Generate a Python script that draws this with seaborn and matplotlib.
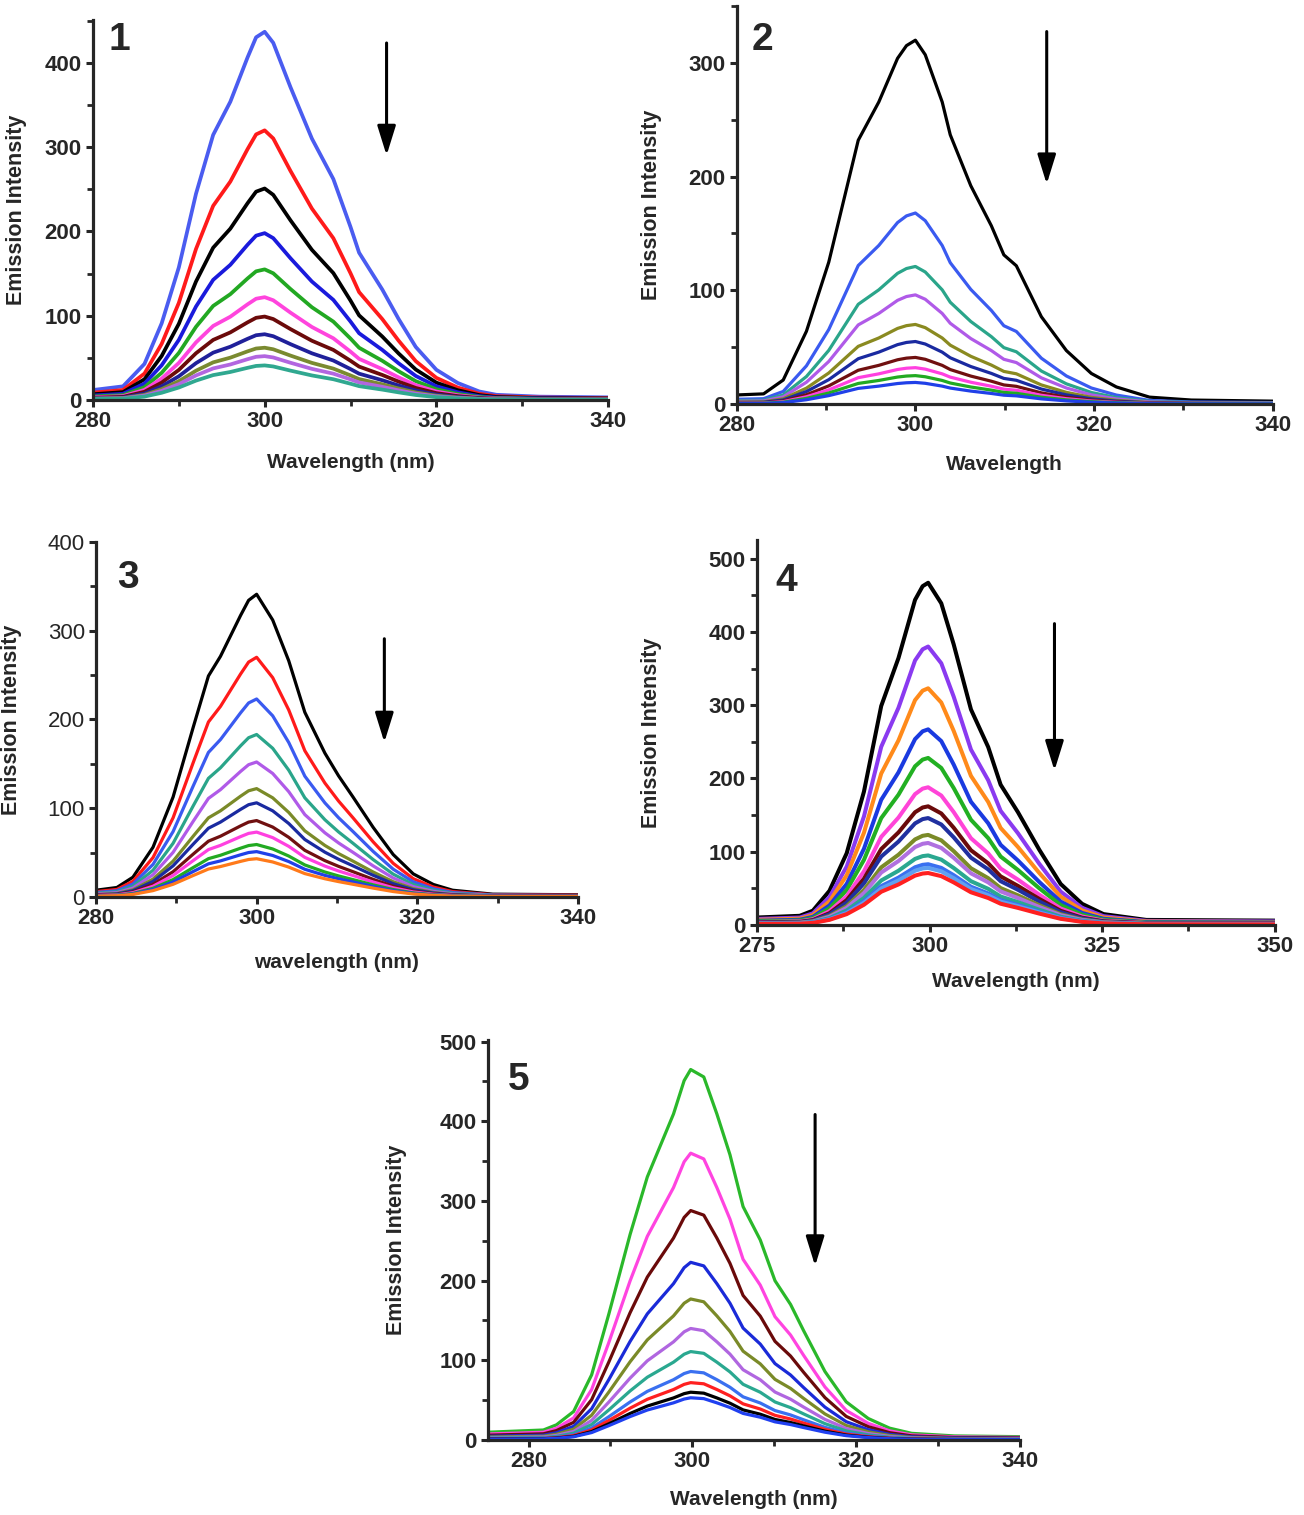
import numpy as np
import pandas as pd
import matplotlib
matplotlib.use("Agg")
import matplotlib.pyplot as plt
from matplotlib.ticker import MultipleLocator
import seaborn as sns

sns.set_style("ticks")
plt.rcParams['font.family'] = ['Liberation Sans', 'DejaVu Sans']

# ---- data: one normalised band shape per panel + peak heights ----
wl_1 = [280, 283.5, 286, 288, 290, 292, 294, 296, 298, 299, 300, 301, 303, 305.5, 308, 310, 311,
        313.7, 315.6, 317.6, 320, 322.5, 325, 327, 332, 340]
shape_1 = [.027, .037, .098, .208, .36, .56, .72, .81, .93, .985, 1.0, .97, .85, .71, .60, .47, .40,
           .30, .22, .144, .082, .046, .023, .014, .009, .007]
peaks_1 = [437, 320, 251, 198, 155, 122, 99, 78, 62, 52, 41]
colors_1 = ['#4a5cf0', '#ff1a1a', '#000000', '#1a1adc', '#22a822', '#ff44dd', '#6b0a0a',
            '#20209a', '#7a8a30', '#b266e0', '#30a890']

wl_2 = [280, 283, 285.2, 287.8, 290.3, 293.6, 295.9, 298, 299, 300, 301.1, 303, 303.9, 306.2, 308.5,
        309.9, 311.3, 314.1, 316.9, 319.7, 322.5, 326.2, 330.9, 340]
shape_2 = [.025, .028, .066, .20, .39, .725, .83, .95, .985, 1.0, .96, .83, .74, .60, .49,
           .41, .38, .24, .147, .084, .047, .019, .011, .008]
peaks_2 = [320, 168, 121, 96, 70, 55, 41, 32, 25, 19]
colors_2 = ['#000000', '#3a5af0', '#2aa58a', '#b05ae8', '#8a8a20', '#1a2aa0', '#701010',
            '#ff40e0', '#22aa22', '#2040e8']

wl_3 = [280, 282.6, 284.6, 287.1, 289.6, 292.1, 294, 295.5, 298, 299, 300, 302, 304, 306, 308.5,
        310.2, 312, 314.5, 317, 319.5, 322, 324.4, 329.4, 340]
shape_3 = [.022, .031, .065, .164, .33, .56, .73, .795, .93, .98, 1.0, .915, .78, .61, .475,
           .40, .33, .23, .14, .076, .041, .022, .009, .007]
peaks_3 = [341, 270, 223, 183, 152, 122, 106, 86, 73, 59, 51, 43]
colors_3 = ['#000000', '#ff1a1a', '#3a5af0', '#2aa58a', '#b05ae8', '#7a8a28', '#1a2aa0',
            '#701010', '#ff40e0', '#22aa22', '#2040e8', '#ff7a1a']

wl_4 = [275, 281.2, 283.1, 285.5, 288, 290.5, 293, 295.5, 297.9, 299, 299.8, 301.7, 303.5, 306,
        308.5, 310.3, 312.8, 315.9, 319, 322.1, 325.2, 331.4, 350]
shape_4 = [.022, .027, .042, .10, .21, .39, .64, .78, .95, .99, 1.0, .94, .82, .63,
           .52, .41, .33, .22, .12, .062, .032, .015, .013]
peaks_4 = [467, 380, 323, 267, 228, 188, 162, 146, 123, 112, 95, 83, 78, 71]
colors_4 = ['#000000', '#8a3af0', '#ff8a1a', '#1a3ae0', '#22b022', '#ff44d8', '#6a0a0a',
            '#2030a0', '#7a8a28', '#b070e0', '#2aa890', '#3a70f0', '#60a0f0', '#ff2020']

wl_5 = [275, 281.8, 283.4, 285.5, 287.7, 289.8, 292.4, 294.5, 297.7, 299, 299.8, 301.4, 303, 304.6,
        306.2, 308.3, 310.1, 312, 313.6, 316.2, 318.8, 321.5, 324.1, 326.8, 332, 340]
shape_5 = [.021, .027, .041, .077, .176, .34, .555, .71, .88, .97, 1.0, .98, .88, .77,
           .63, .54, .43, .366, .295, .185, .103, .058, .032, .018, .011, .009]
peaks_5 = [465, 360, 288, 223, 177, 140, 111, 86, 72, 60, 53]
colors_5 = ['#2ab82a', '#ff44e0', '#6a0a0a', '#1a2ad8', '#7a8a28', '#b066e0', '#2aa890',
            '#3a70f0', '#ff2020', '#000000', '#2040f0']

panels = [
    # label, wl, shape, peaks, colors, rect, xlim, xmajor, xminor, ytop, xlabel, lw, arrow(x, y0, y1), ylab_off, xlab_off, num_pos
    ('1', wl_1, shape_1, peaks_1, colors_1, [0.0713, 0.736, 0.395, 0.2508], (280, 340), 20, 10,
     451, 'Wavelength (nm)', 2.7, (314.2, 427, 287), -0.128, -0.139, (0.03, 0.995)),
    ('2', wl_2, shape_2, peaks_2, colors_2, [0.565, 0.7333, 0.411, 0.2627], (280, 340), 20, 10,
     350, 'Wavelength', 2.3, (314.7, 330, 191), -0.14, -0.128, (0.028, 0.96)),
    ('3', wl_3, shape_3, peaks_3, colors_3, [0.0736, 0.408, 0.3696, 0.2343], (280, 340), 20, 10,
     400, 'wavelength (nm)', 2.3, (315.9, 294, 171), -0.154, -0.158, (0.044, 0.95)),
    ('4', wl_4, shape_4, peaks_4, colors_4, [0.5805, 0.3894, 0.397, 0.254], (275, 350), 25, 12.5,
     525, 'Wavelength (nm)', 2.9, (318.1, 415, 207), -0.183, -0.122, (0.035, 0.94)),
    ('5', wl_5, shape_5, peaks_5, colors_5, [0.374, 0.0495, 0.408, 0.264], (275, 340), 20, 10,
     502, 'Wavelength (nm)', 2.3, (315.0, 412, 215), -0.152, -0.125, (0.038, 0.945)),
]

fig = plt.figure(figsize=(13.04, 15.15), dpi=100)

for (num, wl, shape, peaks, colors, rect, xlim, xmaj, xmin, ytop, xlab, lw, arrow,
     ylab_off, xlab_off, num_pos) in panels:
    ax = fig.add_axes(rect)
    rows = []
    for i, pk in enumerate(peaks):
        for w, s in zip(wl, shape):
            rows.append({'wl': w, 'I': s * pk, 'curve': i})
    df = pd.DataFrame(rows)
    sns.lineplot(data=df, x='wl', y='I', hue='curve', palette=colors, estimator=None,
                 sort=False, lw=lw, legend=False, ax=ax,
                 solid_joinstyle='round', solid_capstyle='round')
    ax.set_xlim(*xlim)
    ax.set_ylim(0, ytop)
    ax.xaxis.set_major_locator(MultipleLocator(xmaj))
    ax.xaxis.set_minor_locator(MultipleLocator(xmin))
    ax.yaxis.set_major_locator(MultipleLocator(100))
    ax.yaxis.set_minor_locator(MultipleLocator(50))
    sns.despine(ax=ax)
    for sp in ['left', 'bottom']:
        ax.spines[sp].set_linewidth(2.3)
    ax.tick_params(which='major', length=5, width=2.2, labelsize=16, pad=3)
    ax.tick_params(which='minor', length=4, width=2.0)
    for t in ax.get_xticklabels():
        t.set_fontweight('bold')
    for t in ax.get_yticklabels():
        t.set_fontweight('normal' if num == '3' else 'bold')
    ax.set_xlabel(xlab, fontsize=15, fontweight='bold')
    ax.set_ylabel('Emission Intensity', fontsize=15.5, fontweight='bold')
    ax.yaxis.set_label_coords(ylab_off, 0.5)
    ax.xaxis.set_label_coords(0.5, xlab_off)
    ax.text(num_pos[0], num_pos[1], num, transform=ax.transAxes, fontsize=28,
            fontweight='bold', ha='left', va='top')
    ax.annotate('', xy=(arrow[0], arrow[2]), xytext=(arrow[0], arrow[1]),
                arrowprops=dict(arrowstyle='-|>,head_length=0.9,head_width=0.28',
                                lw=2.2, color='black', mutation_scale=20))

fig.savefig('out.png', dpi=100, facecolor='white')
